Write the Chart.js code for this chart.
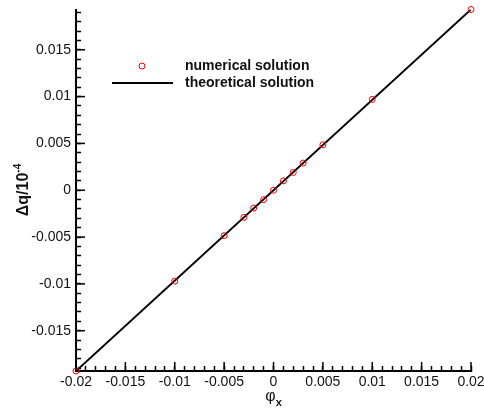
<!DOCTYPE html>
<html>
<head>
<meta charset="utf-8">
<script src="https://cdn.jsdelivr.net/npm/chart.js@4"></script>
<style>
  html, body { margin: 0; padding: 0; background: #fff; }
  #wrap { width: 484px; height: 411px; }
</style>
</head>
<body>
<div id="wrap"><canvas id="chart"></canvas></div>
<script>
// data
const phiX = [-0.02, -0.01, -0.005, -0.003, -0.002, -0.001, 0, 0.001, 0.002, 0.003, 0.005, 0.01, 0.02];
const dqNumerical = [-0.0193, -0.0097, -0.00485, -0.0029, -0.0019, -0.001, 0, 0.001, 0.0019, 0.0029, 0.00485, 0.0097, 0.0193];
const theoryX = [-0.02, 0.02];
const theoryY = [-0.0193, 0.0193];

const xTicks = [-0.02, -0.015, -0.01, -0.005, 0, 0.005, 0.01, 0.015, 0.02];
const xTickLabels = ['-0.02', '-0.015', '-0.01', '-0.005', '0', '0.005', '0.01', '0.015', '0.02'];
const yTicks = [-0.015, -0.01, -0.005, 0, 0.005, 0.01, 0.015];
const yTickLabels = ['-0.015', '-0.01', '-0.005', '0', '0.005', '0.01', '0.015'];
const minorStep = 0.001;

const legendLabels = ['numerical solution', 'theoretical solution'];

const FONT = '"Liberation Sans", Arial, sans-serif';

// minor tick positions (every 0.001) for the native tick marks
const xMinor = [];
for (let i = -20; i <= 20; i++) xMinor.push(i * minorStep);
const yMinor = [];
for (let i = -19; i <= 19; i++) yMinor.push(i * minorStep);

const labelFor = (ticks, labels) => v => {
  const k = ticks.findIndex(t => Math.abs(t - v) < 1e-9);
  return k >= 0 ? labels[k] : '';
};

// longer marks at the labelled values
const majorTicks = {
  id: 'majorTicks',
  afterDraw(chart) {
    const ctx = chart.ctx;
    const a = chart.chartArea;
    const xs = chart.scales.x;
    const ys = chart.scales.y;
    ctx.save();
    ctx.fillStyle = '#000';
    xTicks.forEach(v => {
      const px = xs.getPixelForValue(v);
      ctx.fillRect(px - 0.75, a.bottom - 9, 1.5, 9);
    });
    yTicks.forEach(v => {
      const py = ys.getPixelForValue(v);
      ctx.fillRect(a.left, py - 0.75, 9, 1.5);
    });
    ctx.restore();
  }
};

// legend and axis titles
const decorations = {
  id: 'decorations',
  afterDraw(chart) {
    const ctx = chart.ctx;
    const xs = chart.scales.x;
    ctx.save();
    ctx.strokeStyle = '#e00';
    ctx.lineWidth = 1;
    ctx.beginPath();
    ctx.arc(142, 66, 3, 0, Math.PI * 2);
    ctx.stroke();
    ctx.strokeStyle = '#000';
    ctx.lineWidth = 2;
    ctx.beginPath();
    ctx.moveTo(112, 83);
    ctx.lineTo(173, 83);
    ctx.stroke();
    ctx.fillStyle = '#111';
    ctx.font = 'bold 14px ' + FONT;
    ctx.textBaseline = 'middle';
    ctx.textAlign = 'left';
    ctx.fillText(legendLabels[0], 185, 66);
    ctx.fillText(legendLabels[1], 185, 83);

    // y title: Δq/10^-4
    ctx.save();
    ctx.translate(22, 190);
    ctx.rotate(-Math.PI / 2);
    ctx.textBaseline = 'alphabetic';
    ctx.font = 'bold 16px ' + FONT;
    const main = 'Δq/10';
    const wMain = ctx.measureText(main).width;
    ctx.font = 'bold 10px ' + FONT;
    const sup = '-4';
    const wSup = ctx.measureText(sup).width;
    const x0 = -(wMain + wSup) / 2;
    ctx.font = 'bold 16px ' + FONT;
    ctx.fillText(main, x0, 6);
    ctx.font = 'bold 10px ' + FONT;
    ctx.fillText(sup, x0 + wMain, -1);
    ctx.restore();

    // x title: φ_x
    ctx.textBaseline = 'alphabetic';
    ctx.font = '16px ' + FONT;
    const wPhi = ctx.measureText('φ').width;
    ctx.font = 'bold 11px ' + FONT;
    const wSub = ctx.measureText('x').width;
    const px0 = xs.getPixelForValue(0) - (wPhi + wSub) / 2;
    ctx.font = '16px ' + FONT;
    ctx.fillText('φ', px0, 401);
    ctx.font = 'bold 11px ' + FONT;
    ctx.fillText('x', px0 + wPhi, 406);
    ctx.restore();
  }
};

const noOverflow = s => {
  s.paddingLeft = 0;
  s.paddingRight = 0;
  s.paddingTop = 0;
  s.paddingBottom = 0;
};

// inward ticks: negative tick length, no grid lines inside the plot
const axisGrid = {
  display: true,
  drawOnChartArea: false,
  drawTicks: true,
  tickLength: -5,
  tickColor: '#000',
  tickWidth: 1.5
};

new Chart(document.getElementById('chart'), {
  type: 'scatter',
  data: {
    datasets: [
      {
        label: legendLabels[0],
        data: phiX.map((v, i) => ({ x: v, y: dqNumerical[i] })),
        pointRadius: 3,
        pointBorderWidth: 1,
        pointBorderColor: '#e00',
        pointBackgroundColor: 'rgba(255,255,255,0)',
        showLine: false,
        clip: false,
        order: 0
      },
      {
        label: legendLabels[1],
        data: theoryX.map((v, i) => ({ x: v, y: theoryY[i] })),
        showLine: true,
        borderColor: '#000',
        borderWidth: 2,
        pointRadius: 0,
        order: 1
      }
    ]
  },
  options: {
    responsive: true,
    maintainAspectRatio: false,
    animation: false,
    layout: { padding: { top: 9.5, right: 13, left: 0, bottom: 0 } },
    plugins: {
      legend: { display: false },
      tooltip: { enabled: false }
    },
    scales: {
      x: {
        type: 'linear',
        min: -0.02,
        max: 0.02,
        grid: axisGrid,
        border: { display: true, color: '#000', width: 2 },
        afterBuildTicks: s => { s.ticks = xMinor.map(v => ({ value: v })); },
        afterFit: s => { s.height = 40; noOverflow(s); },
        ticks: {
          color: '#111',
          padding: 8,
          autoSkip: false,
          maxRotation: 0,
          font: { family: FONT, size: 14 },
          callback: labelFor(xTicks, xTickLabels)
        }
      },
      y: {
        type: 'linear',
        min: -0.0193,
        max: 0.0193,
        grid: axisGrid,
        border: { display: true, color: '#000', width: 2 },
        afterBuildTicks: s => { s.ticks = yMinor.map(v => ({ value: v })); },
        afterFit: s => { s.width = 76; noOverflow(s); },
        ticks: {
          color: '#111',
          padding: 10,
          autoSkip: false,
          font: { family: FONT, size: 14 },
          callback: labelFor(yTicks, yTickLabels)
        }
      }
    }
  },
  plugins: [majorTicks, decorations]
});
</script>
</body>
</html>
